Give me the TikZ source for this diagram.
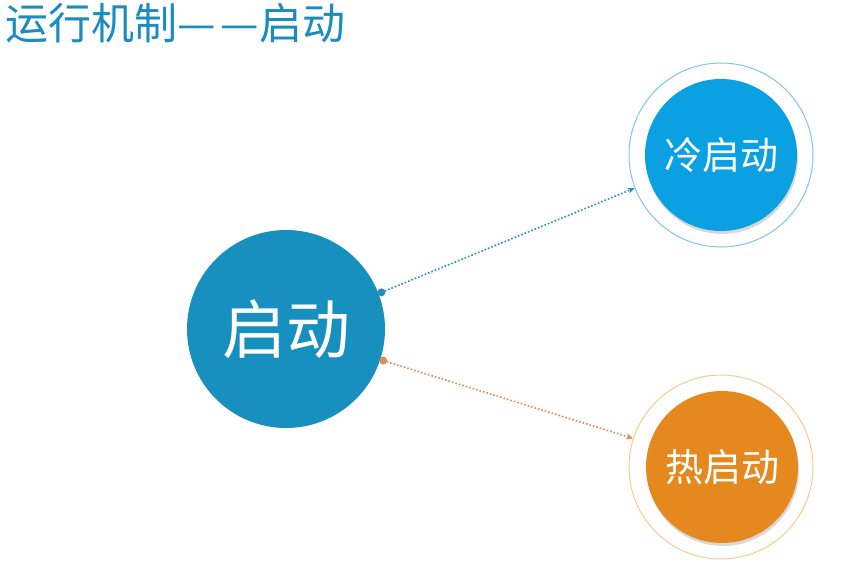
\documentclass[tikz,border=0pt]{standalone}
\usepackage{fontspec}
\newfontfamily\cjk{Noto Sans CJK SC}
\usetikzlibrary{shadows,arrows.meta}
\definecolor{titleblue}{HTML}{1A8CC0}
\definecolor{mainblue}{HTML}{1790BF}
\definecolor{coldblue}{HTML}{0AA0E2}
\definecolor{hotorange}{HTML}{E5891F}
\definecolor{ringblue}{HTML}{7EC6E8}
\definecolor{ringorange}{HTML}{F5CB90}
\definecolor{linkblue}{HTML}{2A8DC0}
\definecolor{linkorange}{HTML}{D98C55}
\tikzset{
  mainball/.style={circle, fill=mainblue, minimum size=198pt, inner sep=0pt, text=white, font=\cjk\fontsize{64}{64}\selectfont},
  subball/.style={circle, minimum size=152pt, inner sep=0pt, text=white, font=\cjk\fontsize{38}{38}\selectfont,
    drop shadow={shadow xshift=1pt, shadow yshift=-3pt, opacity=0.25, fill=black!60}},
  ring/.style={circle, draw=#1, line width=1pt, minimum size=184pt, inner sep=0pt},
  link/.style={line width=1.6pt, dash pattern=on 1.6pt off 2pt},
  enddot/.style={circle, fill=#1, minimum size=8pt, inner sep=0pt},
}
\begin{document}
\begin{tikzpicture}[x=1pt,y=-1pt]
\fill[white] (0,0) rectangle (867,567);
\useasboundingbox (0,0) rectangle (867,567);
\node[anchor=base west, inner sep=0pt, text=titleblue, font=\cjk\fontsize{43}{43}\selectfont] (title) at (5,40) {运行机制—\hspace{5pt}—启动};
\node[mainball] (main) at (286,329) {启动};
\node[ring=ringblue] (coldring) at (721,155) {};
\node[subball, fill=coldblue] (cold) at (721,155) {\raisebox{-4pt}{冷启动}};
\node[ring=ringorange] (hotring) at (721,467) {};
\node[subball, fill=hotorange] (hot) at (722,467) {\raisebox{-5pt}{热启动}};
\node[enddot=linkblue] (d1) at ([shift={(21:3pt)}]main.21) {};
\node[enddot=linkorange] (d2) at ([shift={(-18:3pt)}]main.-18) {};
\draw[link, draw=linkblue, -{Stealth[length=7pt,width=6pt,fill=linkblue]}] (d1.center) -- (coldring.201);
\draw[link, draw=linkorange, -{Stealth[length=7pt,width=6pt,fill=linkorange]}] (d2.center) -- (hotring.162);
\end{tikzpicture}
\end{document}
